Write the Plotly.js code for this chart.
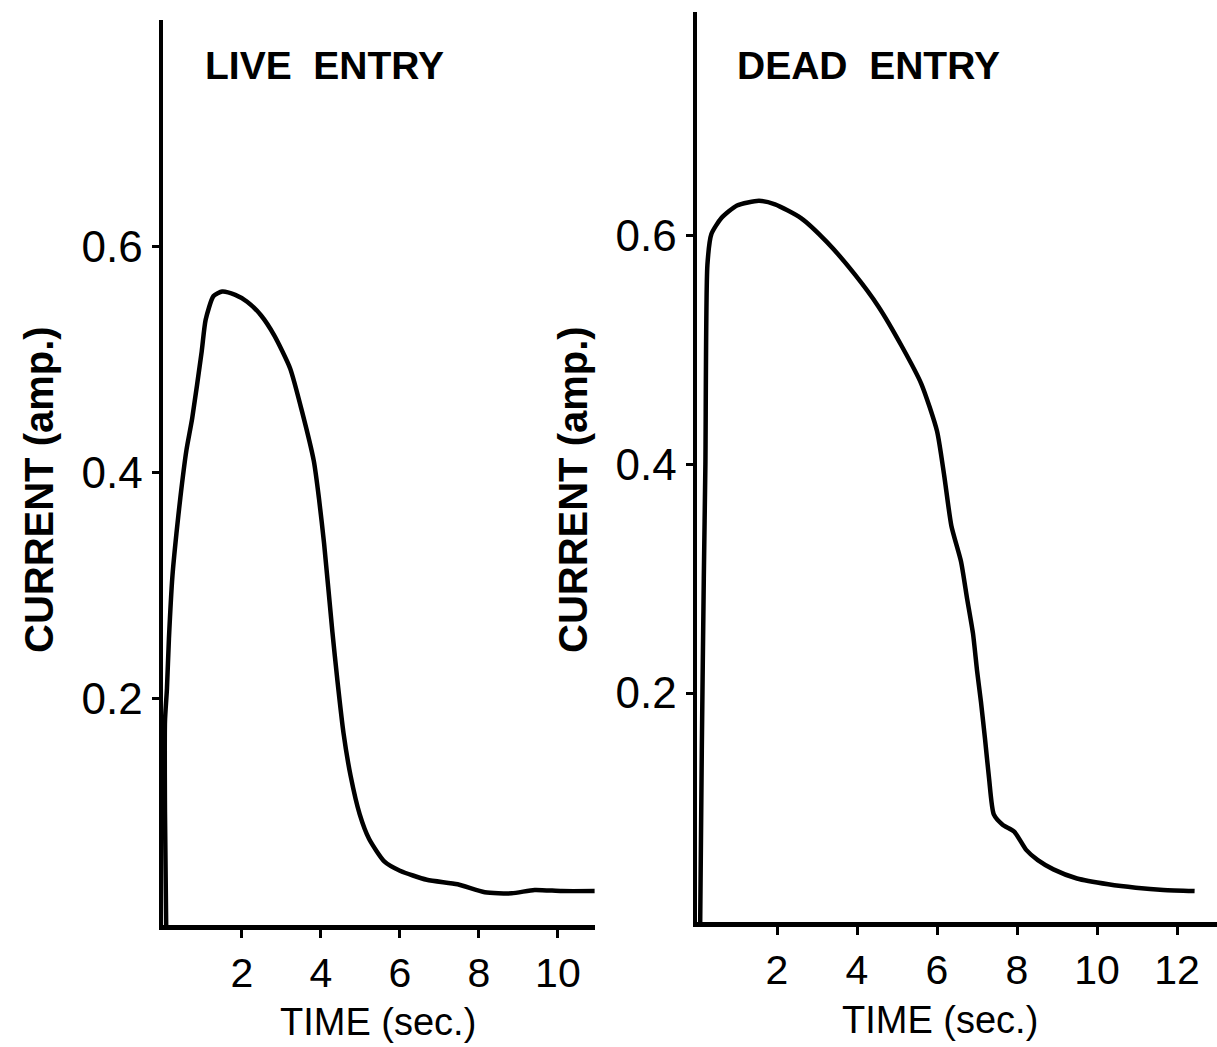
<!DOCTYPE html>
<html>
<head>
<meta charset="utf-8">
<script src="https://cdn.plot.ly/plotly-3.0.1.min.js"></script>
<style>html,body{margin:0;padding:0;background:#fff;}#chart{width:1217px;height:1047px;}</style>
</head>
<body>
<div id="chart"></div>
<script>
// LIVE ENTRY trace: time (sec.) and current (amp.)
const liveTime = [0.08, 0.05, 0.05, 0.10, 0.15, 0.24, 0.34, 0.44, 0.59, 0.74, 0.98, 1.08, 1.28, 1.50, 1.83, 2.13, 2.48, 2.82, 3.22, 3.52, 3.82, 3.95, 4.08, 4.29, 4.42, 4.57, 4.75, 4.98, 5.22, 5.61, 6.0, 6.68, 7.46, 8.15, 8.83, 9.41, 10.1, 10.93];
const liveCurrent = [0.0, 0.10, 0.18, 0.209, 0.253, 0.309, 0.346, 0.378, 0.419, 0.448, 0.507, 0.535, 0.556, 0.560, 0.557, 0.551, 0.539, 0.521, 0.492, 0.454, 0.410, 0.377, 0.337, 0.259, 0.215, 0.170, 0.132, 0.098, 0.076, 0.056, 0.048, 0.040, 0.036, 0.029, 0.028, 0.031, 0.030, 0.030];

// DEAD ENTRY trace
const deadTime = [0.08, 0.12, 0.17, 0.21, 0.26, 0.36, 0.61, 1.0, 1.55, 1.95, 2.6, 3.25, 3.94, 4.53, 5.12, 5.61, 6.0, 6.18, 6.36, 6.6, 6.75, 6.9, 7.0, 7.1, 7.2, 7.3, 7.42, 7.64, 7.93, 8.23, 8.52, 8.91, 9.5, 10.28, 10.97, 11.66, 12.44];
const deadCurrent = [0.0, 0.15, 0.30, 0.40, 0.574, 0.601, 0.615, 0.626, 0.630, 0.627, 0.615, 0.594, 0.566, 0.538, 0.503, 0.470, 0.429, 0.390, 0.346, 0.315, 0.283, 0.252, 0.220, 0.192, 0.160, 0.126, 0.094, 0.085, 0.079, 0.063, 0.054, 0.046, 0.038, 0.033, 0.030, 0.028, 0.027];

// Tick values and labels
const yTickVals = [0.2, 0.4, 0.6];
const yTickText = ["0.2", "0.4", "0.6"];
const liveXTickVals = [2, 4, 6, 8, 10];
const liveXTickText = ["2", "4", "6", "8", "10"];
const deadXTickVals = [2, 4, 6, 8, 10, 12];
const deadXTickText = ["2", "4", "6", "8", "10", "12"];

const panelTitles = ["LIVE\u00a0\u00a0ENTRY", "DEAD\u00a0\u00a0ENTRY"];
const xTitle = "TIME (sec.)";
const yTitle = "CURRENT (amp.)";

const W = 1217, H = 1047;
const px = v => v / W;
const py = v => 1 - v / H;

const FONT = "Liberation Sans, Arial, sans-serif";
const lineStyle = {color: "#000", width: 4.5, shape: "spline", smoothing: 0.6};

const data = [
  {x: liveTime, y: liveCurrent, xaxis: "x", yaxis: "y", mode: "lines", line: lineStyle, hoverinfo: "skip"},
  {x: deadTime, y: deadCurrent, xaxis: "x2", yaxis: "y2", mode: "lines", line: lineStyle, hoverinfo: "skip"}
];

function xAxis(domain, range, vals, text) {
  return {
    domain: domain, range: range, showgrid: false, zeroline: false,
    showline: true, linecolor: "#000", linewidth: 5,
    ticks: "outside", ticklen: 8, tickwidth: 3, tickcolor: "#000",
    tickvals: vals, ticktext: text,
    tickfont: {family: FONT, size: 41, color: "#000"}
  };
}
function yAxis(domain, range, anchor) {
  return {
    domain: domain, range: range, anchor: anchor, showgrid: false, zeroline: false,
    showline: true, linecolor: "#000", linewidth: 4.5,
    ticks: "outside", ticklen: 7, tickwidth: 3, tickcolor: "#000",
    tickvals: yTickVals, ticktext: yTickText,
    tickfont: {family: FONT, size: 44, color: "#000"}
  };
}

const layout = {
  width: W, height: H,
  margin: {l: 0, r: 0, t: 0, b: 0},
  paper_bgcolor: "#fff", plot_bgcolor: "#fff",
  showlegend: false,
  xaxis: Object.assign(xAxis([px(163), px(595)], [0, 10.94], liveXTickVals, liveXTickText), {anchor: "y"}),
  yaxis: yAxis([1 - 925 / H, 1 - 20 / H], [0, 0.8], "x"),
  xaxis2: Object.assign(xAxis([px(697), 1], [0, 13], deadXTickVals, deadXTickText), {anchor: "y2"}),
  yaxis2: yAxis([1 - 922 / H, 1 - 12 / H], [0, 0.795], "x2"),
  annotations: [
    {text: "<b>" + panelTitles[0] + "</b>", xref: "paper", yref: "paper", x: px(203), y: py(66), xanchor: "left", yanchor: "middle", showarrow: false, font: {family: FONT, size: 39, color: "#000"}},
    {text: "<b>" + panelTitles[1] + "</b>", xref: "paper", yref: "paper", x: px(735), y: py(66), xanchor: "left", yanchor: "middle", showarrow: false, font: {family: FONT, size: 39, color: "#000"}},
    {text: "<b>" + yTitle + "</b>", xref: "paper", yref: "paper", x: px(39), y: py(490), xanchor: "center", yanchor: "middle", textangle: -90, showarrow: false, font: {family: FONT, size: 40, color: "#000"}},
    {text: "<b>" + yTitle + "</b>", xref: "paper", yref: "paper", x: px(573), y: py(490), xanchor: "center", yanchor: "middle", textangle: -90, showarrow: false, font: {family: FONT, size: 40, color: "#000"}},
    {text: xTitle, xref: "paper", yref: "paper", x: px(378), y: py(1022), xanchor: "center", yanchor: "middle", showarrow: false, font: {family: FONT, size: 38, color: "#000"}},
    {text: xTitle, xref: "paper", yref: "paper", x: px(940), y: py(1020), xanchor: "center", yanchor: "middle", showarrow: false, font: {family: FONT, size: 38, color: "#000"}}
  ]
};

Plotly.newPlot("chart", data, layout, {staticPlot: true, displayModeBar: false});
</script>
</body>
</html>
